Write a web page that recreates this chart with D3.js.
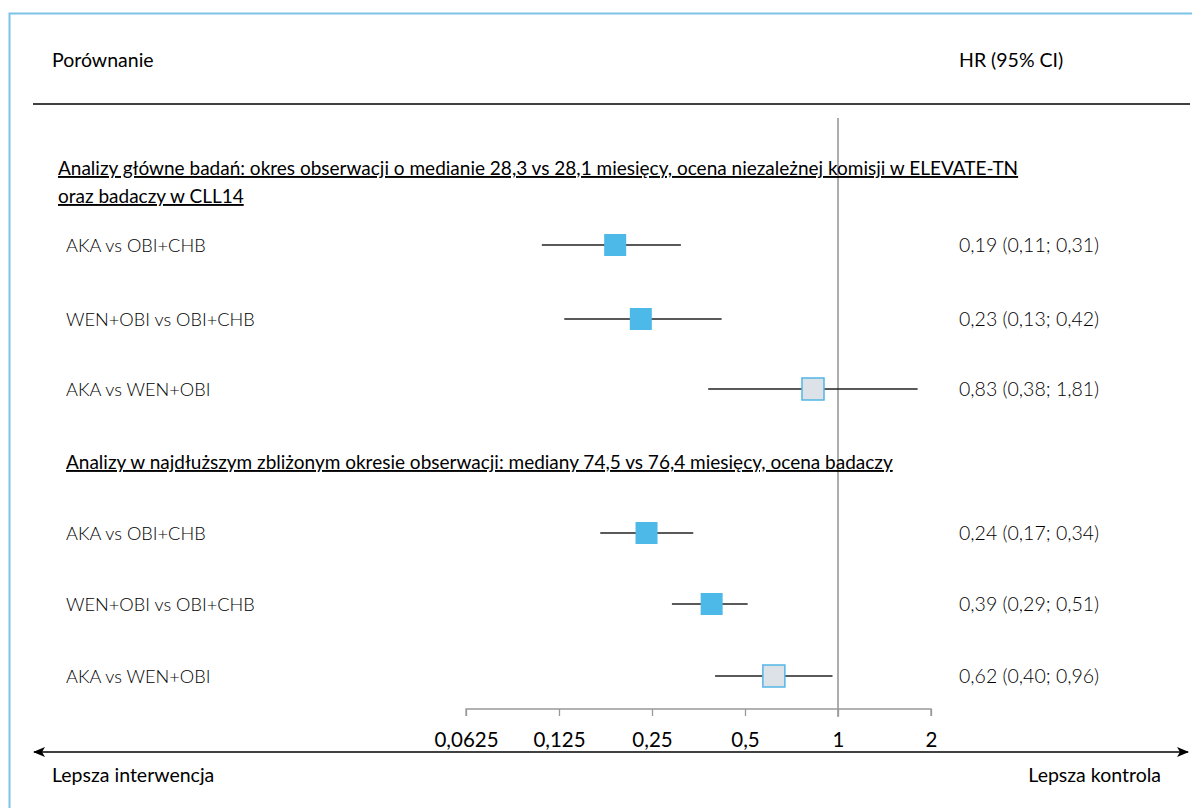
<!DOCTYPE html>
<html>
<head>
<meta charset="utf-8">
<script src="https://cdn.jsdelivr.net/npm/d3@7"></script>
<style>
  body { margin: 0; background: #fff; }
  text { font-family: Lato, "Open Sans", sans-serif; fill: #000; }
</style>
</head>
<body>
<div id="chart"></div>
<script>
// data
const sections = [
  ["Analizy główne badań: okres obserwacji o medianie 28,3 vs 28,1 miesięcy, ocena niezależnej komisji w ELEVATE-TN", "oraz badaczy w CLL14"],
  ["Analizy w najdłuższym zbliżonym okresie obserwacji: mediany 74,5 vs 76,4 miesięcy, ocena badaczy"]
];
const labels = ["AKA vs OBI+CHB", "WEN+OBI vs OBI+CHB", "AKA vs WEN+OBI", "AKA vs OBI+CHB", "WEN+OBI vs OBI+CHB", "AKA vs WEN+OBI"];
const hr = [0.19, 0.23, 0.83, 0.24, 0.39, 0.62];
const lo = [0.11, 0.13, 0.38, 0.17, 0.29, 0.40];
const hi = [0.31, 0.42, 1.81, 0.34, 0.51, 0.96];
const direct = [true, true, false, true, true, false]; // direct vs indirect (gray)
const ticks = [0.0625, 0.125, 0.25, 0.5, 1, 2];

const width = 1192, height = 808;
const fmt = v => v.toFixed(2).replace(".", ",");

const svg = d3.select("#chart").append("svg")
  .attr("width", width).attr("height", height);

// frame
svg.append("path")
  .attr("d", `M9.5,${height} V13.5 H${width}`)
  .attr("fill", "none").attr("stroke", "#7cc3e8").attr("stroke-width", 2);

const x = d3.scaleLog().base(2).domain([0.0625, 2]).range([466, 931]);
const rowY = [245, 319, 389, 533, 604, 676];

// header
svg.append("text").attr("x", 52).attr("y", 67).style("font-size", "19.5px").text("Porównanie");
svg.append("text").attr("x", 959).attr("y", 67).style("font-size", "19.5px").text("HR (95% CI)");
svg.append("line").attr("x1", 33).attr("x2", 1190).attr("y1", 104).attr("y2", 104)
  .attr("stroke", "#000").attr("stroke-width", 1.3);

// reference line at HR=1
svg.append("line").attr("x1", x(1)).attr("x2", x(1)).attr("y1", 118).attr("y2", 717)
  .attr("stroke", "#999").attr("stroke-width", 1.6);

// section headings
const headY = [[175, 203], [469]];
sections.forEach((lines, i) => {
  lines.forEach((t, j) => {
    svg.append("text").attr("x", i === 0 ? 58 : 66).attr("y", headY[i][j])
      .style("font-size", "19px").style("text-decoration", "underline")
      .text(t);
  });
});

// rows
const g = svg.append("g");
labels.forEach((lab, i) => {
  const cy = rowY[i];
  g.append("text").attr("x", 66).attr("y", cy + 7)
    .style("font-size", "18.2px").style("font-weight", 300).text(lab);
  g.append("text").attr("x", 959).attr("y", cy + 7)
    .style("font-size", "19.5px").style("font-weight", 300)
    .text(`${fmt(hr[i])} (${fmt(lo[i])}; ${fmt(hi[i])})`);
  g.append("line").attr("x1", x(lo[i])).attr("x2", x(hi[i])).attr("y1", cy).attr("y2", cy)
    .attr("stroke", "#222").attr("stroke-width", 1.4);
  const s = 22;
  g.append("rect").attr("x", x(hr[i]) - s / 2).attr("y", cy - s / 2)
    .attr("width", s).attr("height", s)
    .attr("fill", direct[i] ? "#4db9e8" : "#dde1e8")
    .attr("stroke", direct[i] ? "#4db9e8" : "#52b6e6")
    .attr("stroke-width", direct[i] ? 0 : 1.5);
});

// axis
const axis = svg.append("g").attr("transform", "translate(0,709)")
  .call(d3.axisBottom(x).tickValues(ticks).tickSize(7).tickSizeOuter(7)
    .tickFormat(d => String(d).replace(".", ",")));
axis.select(".domain").attr("stroke", "#999").attr("stroke-width", 1.3)
  .attr("d", `M${x(0.0625)},7V0H${x(2)}V7`);
axis.selectAll(".tick line").attr("stroke", "#999").attr("stroke-width", 1.3);
axis.selectAll(".tick text").attr("y", 23).style("font-size", "20.5px")
  .style("font-family", "Lato, sans-serif").attr("fill", "#000");

// arrow
const defs = svg.append("defs");
defs.append("marker").attr("id", "arr").attr("viewBox", "0 0 12 10")
  .attr("refX", 11).attr("refY", 5).attr("markerWidth", 12).attr("markerHeight", 10)
  .attr("markerUnits", "userSpaceOnUse").attr("orient", "auto-start-reverse")
  .append("path").attr("d", "M0,0 L12,5 L0,10 L3,5 Z").attr("fill", "#000");
svg.append("line").attr("x1", 34).attr("x2", 1188).attr("y1", 752).attr("y2", 752)
  .attr("stroke", "#000").attr("stroke-width", 1.3)
  .attr("marker-start", "url(#arr)").attr("marker-end", "url(#arr)");

svg.append("text").attr("x", 52).attr("y", 782).style("font-size", "19.5px").text("Lepsza interwencja");
svg.append("text").attr("x", 1161).attr("y", 782).attr("text-anchor", "end")
  .style("font-size", "19.5px").text("Lepsza kontrola");
</script>
</body>
</html>
